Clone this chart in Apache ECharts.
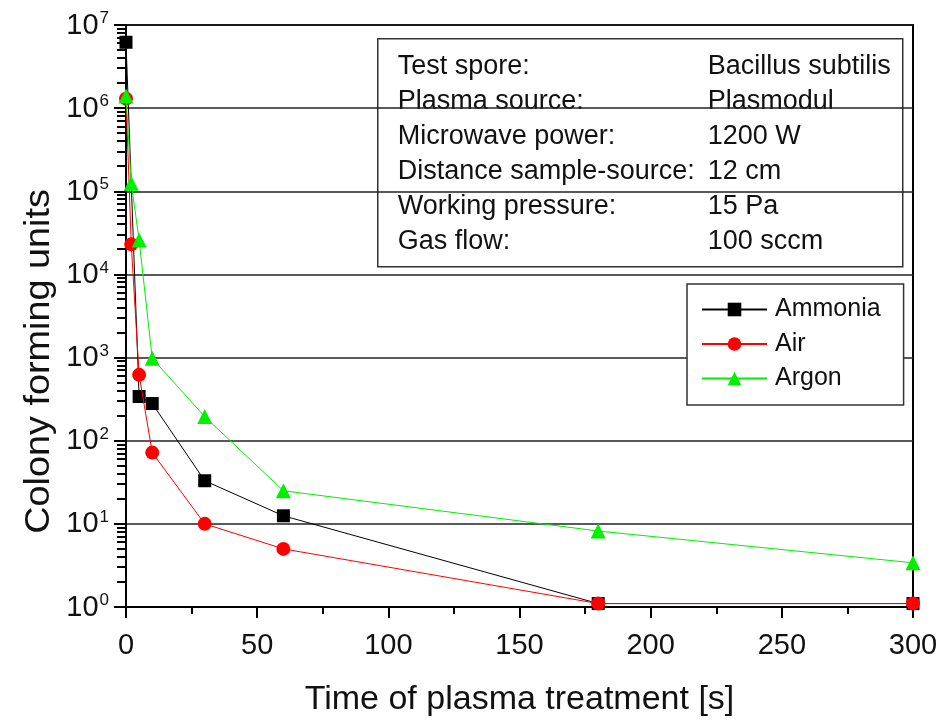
<!DOCTYPE html>
<html>
<head>
<meta charset="utf-8">
<title>Colony forming units vs plasma treatment time</title>
<script src="https://cdn.jsdelivr.net/npm/echarts@6/dist/echarts.min.js"></script>
<style>
  html, body { margin: 0; padding: 0; background: #fff; }
  #chart { width: 942px; height: 723px; }
</style>
</head>
<body>
<div id="chart"></div>
<script>
// Treatment times [s] and surviving colony counts per process gas
const ammoniaTimes = [0, 5, 10, 30, 60, 180, 300];
const ammoniaCfu   = [6.2e6, 340, 280, 33, 12.5, 1.1, 1.1];
const airTimes     = [0, 2, 5, 10, 30, 60, 180, 300];
const airCfu       = [1.3e6, 2.3e4, 620, 72, 10, 5, 1.1, 1.1];
const argonTimes   = [0, 2, 5, 10, 30, 60, 180, 300];
const argonCfu     = [1.4e6, 1.25e5, 2.6e4, 980, 195, 25, 8.2, 3.4];

const seriesNames = ['Ammonia', 'Air', 'Argon'];

// Process parameters listed in the info box
const paramLabels = ['Test spore:', 'Plasma source:', 'Microwave power:',
  'Distance sample-source:', 'Working pressure:', 'Gas flow:'];
const paramValues = ['Bacillus subtilis', 'Plasmodul', '1200 W',
  '12 cm', '15 Pa', '100 sccm'];

const xTitle = 'Time of plasma treatment [s]';
const yTitle = 'Colony forming units';

const FONT = '"Liberation Sans", Arial, sans-serif';
const TEXT = '#111';

function pairs(xs, ys) { return xs.map((x, i) => [x, ys[i]]); }

// Minor tick values for the logarithmic axis: 2..9 × 10^n
const minorTickValues = [];
for (let n = 0; n < 7; n++) {
  for (let k = 2; k <= 9; k++) minorTickValues.push(k * Math.pow(10, n));
}

const chart = echarts.init(document.getElementById('chart'), null, { renderer: 'canvas' });

const GRID = { left: 126, right: 29, top: 25, bottom: 116 };

const staticGraphics = [
  {
    // vertical axis title
    id: 'yTitle',
    type: 'text',
    left: 22,
    top: 'middle',
    rotation: Math.PI / 2,
    scaleX: 1.08,
    style: { text: yTitle, font: '35px ' + FONT, fill: TEXT }
  },
  {
    id: 'infoBox',
    type: 'group',
    left: 377,
    top: 38,
    children: [
      {
        type: 'rect',
        shape: { x: 0, y: 0, width: 525, height: 228 },
        style: { fill: '#fff', stroke: '#333', lineWidth: 1.5 }
      }
    ].concat(paramLabels.map((t, i) => ({
      type: 'text',
      x: 20,
      y: 28 + i * 35,
      style: { text: t, font: '27px ' + FONT, fill: TEXT, textVerticalAlign: 'middle' }
    }))).concat(paramValues.map((t, i) => ({
      type: 'text',
      x: 330,
      y: 28 + i * 35,
      style: { text: t, font: '27px ' + FONT, fill: TEXT, textVerticalAlign: 'middle' }
    })))
  }
];

const option = {
  backgroundColor: '#fff',
  animation: false,
  textStyle: { fontFamily: FONT, color: TEXT },
  grid: Object.assign({ show: true, borderColor: '#000', borderWidth: 2, containLabel: false }, GRID),
  legend: {
    data: seriesNames,
    orient: 'vertical',
    left: 687,
    top: 284,
    itemWidth: 65,
    itemHeight: 17,
    itemGap: 9.5,
    padding: [13, 23, 14, 14],
    borderColor: '#333',
    borderWidth: 1.5,
    backgroundColor: '#fff',
    textStyle: { fontFamily: FONT, fontSize: 25, color: TEXT, padding: [0, 0, 0, 3] }
  },
  xAxis: {
    type: 'value',
    min: 0,
    max: 300,
    interval: 50,
    name: xTitle,
    nameLocation: 'middle',
    nameGap: 76,
    nameTextStyle: { fontFamily: FONT, fontSize: 34, color: TEXT },
    axisLine: { onZero: false, lineStyle: { color: '#000', width: 2 } },
    axisTick: { show: true, inside: false, length: 11, lineStyle: { color: '#000', width: 2 } },
    minorTick: { show: true, splitNumber: 2, length: 7, lineStyle: { color: '#000', width: 2 } },
    axisLabel: { fontFamily: FONT, fontSize: 29, color: TEXT, margin: 24 },
    splitLine: { show: false }
  },
  yAxis: {
    type: 'log',
    logBase: 10,
    min: 1,
    max: 1e7,
    axisLine: { show: true, lineStyle: { color: '#000', width: 2 } },
    axisTick: { show: true, inside: false, length: 12, lineStyle: { color: '#000', width: 2 } },
    splitLine: { show: true, lineStyle: { color: '#222', width: 1.5 } },
    axisLabel: {
      margin: 17,
      formatter: function (v) {
        const e = Math.round(Math.log10(v));
        return '{b|10}{s|' + e + '}';
      },
      rich: {
        b: { fontFamily: FONT, fontSize: 29, color: TEXT, verticalAlign: 'bottom', lineHeight: 30 },
        s: { fontFamily: FONT, fontSize: 17, color: TEXT, verticalAlign: 'top', lineHeight: 30, padding: [0, 0, 14, 1] }
      }
    }
  },
  series: [
    {
      name: 'Ammonia',
      type: 'line',
      data: pairs(ammoniaTimes, ammoniaCfu),
      symbol: 'rect',
      symbolSize: 13,
      lineStyle: { color: '#000', width: 1 },
      itemStyle: { color: '#000' },
      z: 3
    },
    {
      name: 'Air',
      type: 'line',
      data: pairs(airTimes, airCfu),
      symbol: 'circle',
      symbolSize: 14,
      lineStyle: { color: '#ff0000', width: 1 },
      itemStyle: { color: '#ff0000' },
      z: 4
    },
    {
      name: 'Argon',
      type: 'line',
      data: pairs(argonTimes, argonCfu),
      symbol: 'triangle',
      symbolSize: 15,
      lineStyle: { color: '#00f000', width: 1 },
      itemStyle: { color: '#00f000' },
      z: 5
    }
  ],
  graphic: staticGraphics
};

chart.setOption(option);

// Outward minor ticks of the logarithmic axis, placed through the axis scale
const axisX = Math.round(chart.convertToPixel({ xAxisIndex: 0 }, 0));
const minorTicks = minorTickValues.map((v, i) => {
  const y = Math.round(chart.convertToPixel({ yAxisIndex: 0 }, v));
  return {
    id: 'minorTick' + i,
    type: 'rect',
    silent: true,
    shape: { x: axisX - 9, y: y - 1, width: 9, height: 2 },
    style: { fill: '#000' },
    z: 10
  };
});
chart.setOption({ graphic: staticGraphics.concat(minorTicks) });
</script>
</body>
</html>
